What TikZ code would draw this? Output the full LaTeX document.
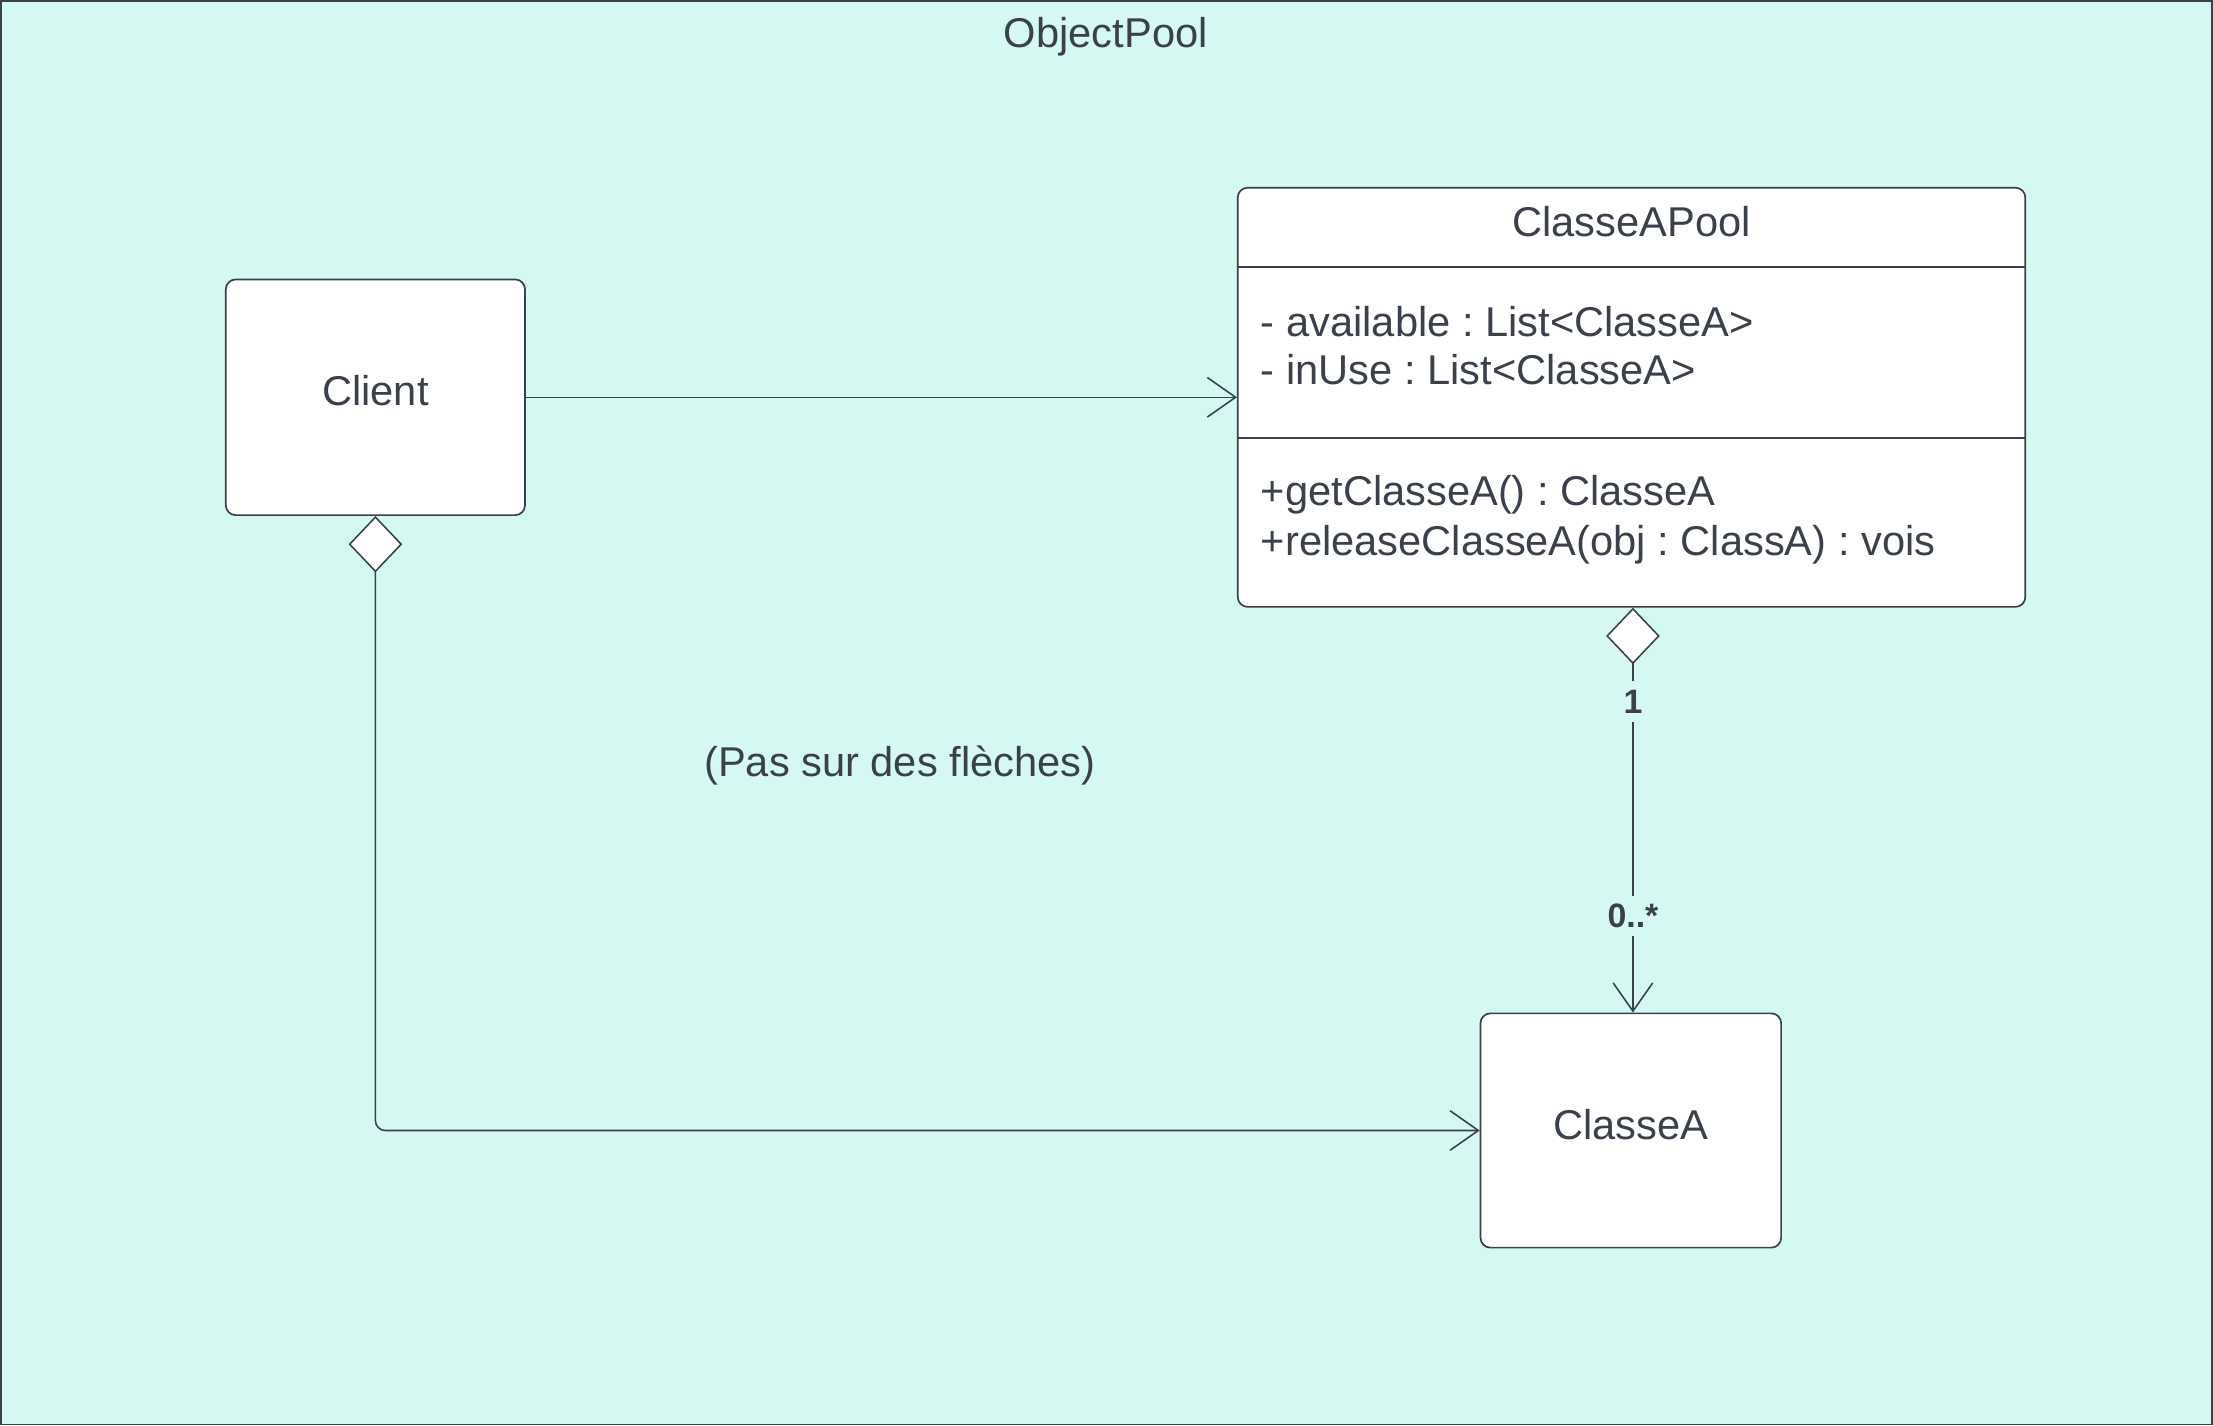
\documentclass[tikz,border=0pt]{standalone}
\usepackage{fontspec}
\setmainfont{Liberation Sans}
\usetikzlibrary{arrows.meta,calc}
\definecolor{bgmint}{HTML}{D6F8F2}
\definecolor{ink}{HTML}{3A414A}
\frenchspacing
\tikzset{
  umlbox/.style={draw=ink, fill=white, line width=0.6pt, rounded corners=3.5pt, inner sep=0pt},
  txt/.style={text=ink, font=\fontsize{14.75}{17}\selectfont, inner sep=0pt},
  mult/.style={text=ink, fill=bgmint, font=\fontsize{12}{14}\selectfont\bfseries, inner sep=3pt},
  link/.style={draw=ink, line width=0.55pt},
  opentip/.style={-{Straight Barb[length=10pt,width=14pt,line width=0.55pt]}},
  aggtip/.style={{Diamond[open,fill=white,length=20pt,width=19pt,line width=0.55pt]}-{Straight Barb[length=10pt,width=14pt,line width=0.55pt]}}
}
\begin{document}
\begin{tikzpicture}[x=0.5pt,y=-0.5pt]
\useasboundingbox (0,0) rectangle (1568,1010);
\fill[bgmint] (0,0) rectangle (1568,1010);
\draw[ink, line width=0.6pt] (0.6,0.6) rectangle (1567.4,1009.4);
\node[txt, anchor=base] (title) at (783.5,33.5) {ObjectPool};

% boxes
\node[umlbox, minimum width=106pt, minimum height=83.5pt] (client) at (266,281.5) {};
\node[txt] (clientlbl) at (266,277) {Client};

\node[umlbox, minimum width=279pt, minimum height=148.5pt] (pool) at (1156,281.5) {};
\draw[ink, line width=0.7pt] (pool.west |- 0,189.5) -- (pool.east |- 0,189.5);
\draw[ink, line width=0.7pt] (pool.west |- 0,310.5) -- (pool.east |- 0,310.5);
\node[txt, anchor=base] (pooltitle) at (1156,167.5) {ClasseAPool};
\node[txt, anchor=base west] (attr1) at (893,238.5) {- available : List<ClasseA>};
\node[txt, anchor=base west] (attr2) at (893,272.5) {- inUse : List<ClasseA>};
\node[txt, anchor=base west] (meth1) at (893,358.5) {+getClasseA() : ClasseA};
\node[txt, anchor=base west] (meth2) at (893,393.5) {+releaseClasseA(obj : ClassA) : vois};

\node[umlbox, minimum width=106.5pt, minimum height=83pt] (classeA) at (1155.5,801) {};
\node[txt] (classeAlbl) at (1155.5,797) {ClasseA};

\node[txt, anchor=base] (note) at (637.5,550.5) {(Pas sur des flèches)};

% connectors
\draw[link, opentip] (client.east) -- (pool.west);
\draw[link, aggtip, rounded corners=3.5pt] (client.south) |- (classeA.west);
\coordinate (poolbot) at ($(pool.south)+(1,0)$);
\draw[link, aggtip] (poolbot) -- (poolbot |- classeA.north);
\node[mult] (m1) at (1157,497) {1};
\node[mult] (m2) at (1157,649) {0..*};
\end{tikzpicture}
\end{document}
